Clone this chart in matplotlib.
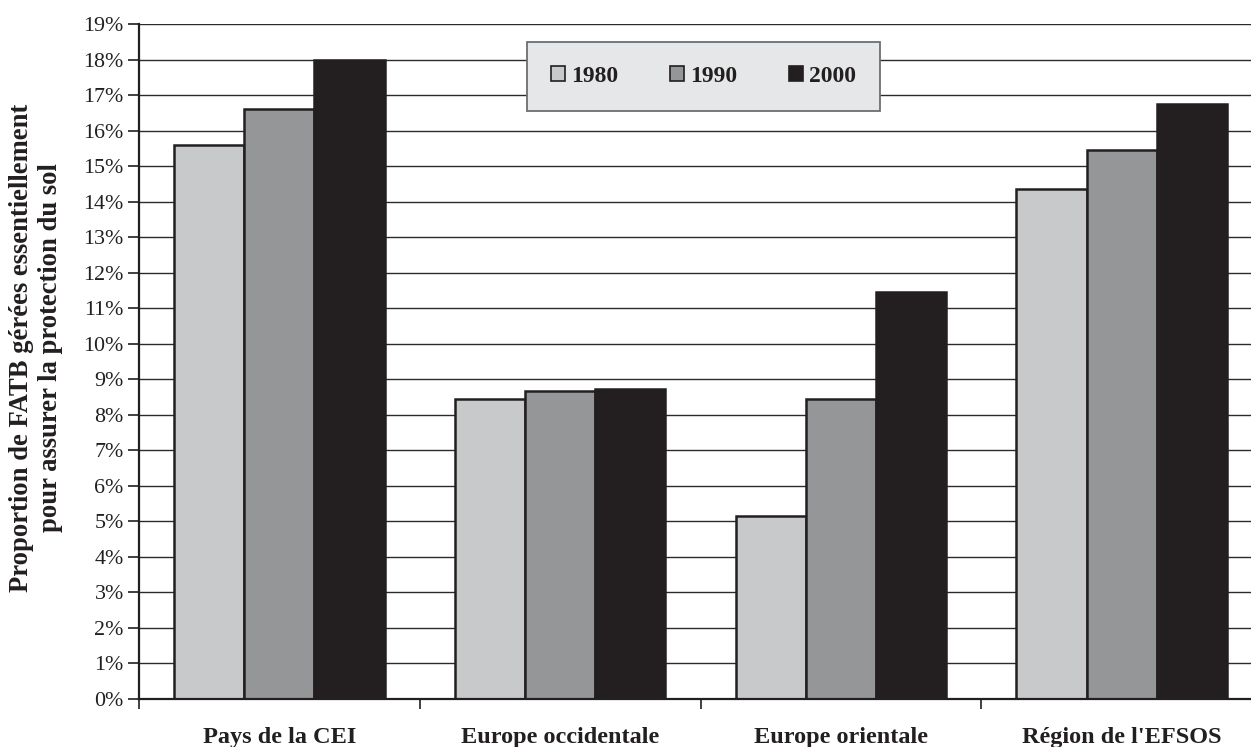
import matplotlib
matplotlib.use("Agg")
import matplotlib.pyplot as plt
from matplotlib.ticker import FuncFormatter, FixedLocator
import numpy as np

# Regional shares of forest (FATB) managed mainly for soil protection
categories = ["Pays de la CEI", "Europe occidentale", "Europe orientale", "Région de l'EFSOS"]
years = ["1980", "1990", "2000"]
share_1980 = [15.6, 8.45, 5.15, 14.35]
share_1990 = [16.6, 8.68, 8.45, 15.45]
share_2000 = [18.0, 8.72, 11.45, 16.75]
series = [share_1980, share_1990, share_2000]
colors = ["#c8c9cb", "#959698", "#231f20"]

plt.rcParams["font.family"] = ["Liberation Serif", "DejaVu Serif"]

W, H = 1251, 747
fig = plt.figure(figsize=(W / 100, H / 100), dpi=100)
ax = fig.add_axes([139 / W, (H - 699) / H, 1123 / W, 675 / H])

x = np.arange(len(categories))
width = 0.25
for i, (vals, col) in enumerate(zip(series, colors)):
    ax.bar(x + (i - 1) * width, vals, width, color=col, edgecolor="#231f20",
           linewidth=1.8, label=years[i], zorder=3)

ax.set_xlim(-0.5, len(categories) - 0.5)
ax.set_ylim(0, 19)
ax.set_yticks(np.arange(0, 20, 1))
ax.yaxis.set_major_formatter(FuncFormatter(lambda v, p: f"{int(round(v))}%"))
ax.yaxis.grid(True, color="#2a2a2a", linewidth=1.0, zorder=0)
ax.set_axisbelow(True)

# category boundaries carry the tick marks, centres carry the labels
ax.xaxis.set_major_locator(FixedLocator(np.arange(-0.5, len(categories) + 0.5, 1)))
ax.xaxis.set_major_formatter(FuncFormatter(lambda v, p: ""))
ax.xaxis.set_minor_locator(FixedLocator(x))
ax.set_xticklabels(categories, minor=True, fontsize=17.5, fontweight="bold", color="#231f20")
ax.tick_params(axis="x", which="major", direction="out", length=7, width=1.2, color="#231f20")
ax.tick_params(axis="x", which="minor", length=0, pad=20)
ax.tick_params(axis="y", direction="out", length=8, width=1.2, color="#231f20",
               labelsize=15.8, labelcolor="#231f20", pad=3)

for side in ("top", "right"):
    ax.spines[side].set_visible(False)
for side in ("left", "bottom"):
    ax.spines[side].set_color("#231f20")
    ax.spines[side].set_linewidth(1.6)
ax.spines["bottom"].set_zorder(4)

fig.text(36 / W, 1 - 348 / H,
         "Proportion de FATB gérées essentiellement\npour assurer la protection du sol",
         rotation=90, ha="center", va="center", multialignment="center",
         fontsize=19.2, fontweight="bold", color="#231f20", linespacing=1.2)

leg = ax.legend(loc="center", bbox_to_anchor=((527 + 880) / 2 / W, 1 - 76.5 / H),
                bbox_transform=fig.transFigure, ncol=3, frameon=True, fancybox=False,
                prop={"size": 17, "weight": "bold"}, handlelength=0.6, handleheight=0.6,
                handletextpad=0.25, columnspacing=2.2, borderpad=1.0, borderaxespad=0)
frame = leg.get_frame()
frame.set_facecolor("#e6e7e8")
frame.set_edgecolor("#6d6e70")
frame.set_linewidth(1.3)
frame.set_alpha(1)
for h in leg.legend_handles:
    h.set_linewidth(1.2)
for t in leg.get_texts():
    t.set_color("#231f20")

fig.savefig("out.png", dpi=100)
